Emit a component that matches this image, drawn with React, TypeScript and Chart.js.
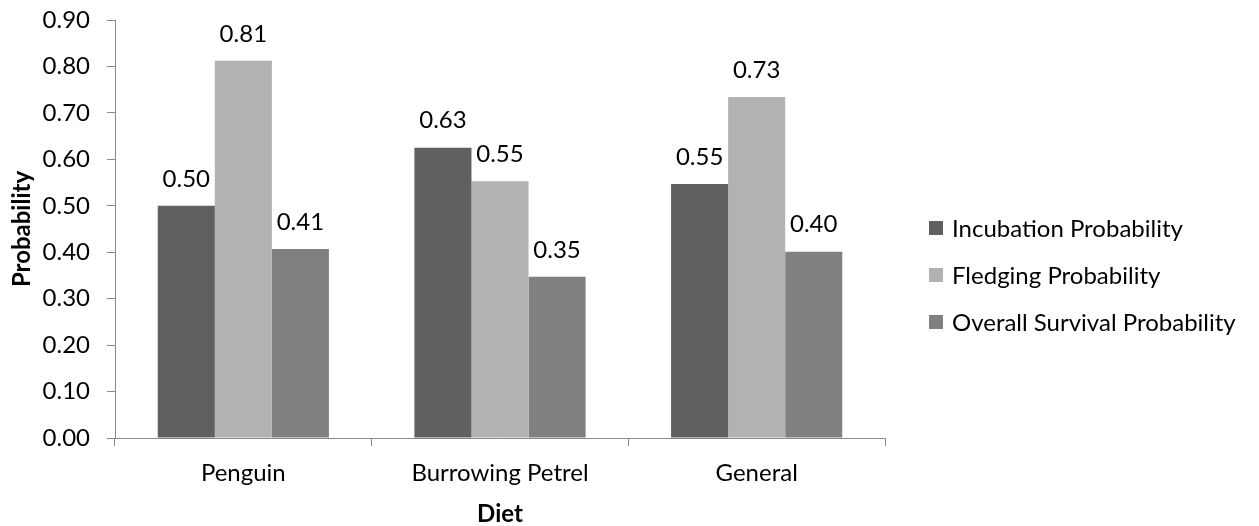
import React, { useEffect, useRef } from "react";
import { Chart, registerables } from "chart.js";

Chart.register(...registerables);

const categories = ["Penguin", "Burrowing Petrel", "General"];
const seriesNames = ["Incubation Probability", "Fledging Probability", "Overall Survival Probability"];
const incubation = [0.5, 0.625, 0.547];
const fledging = [0.812, 0.553, 0.734];
const overall = [0.407, 0.347, 0.401];
const seriesColors = ["#606060", "#b2b2b2", "#808080"];
const yTicks = [0, 0.1, 0.2, 0.3, 0.4, 0.5, 0.6, 0.7, 0.8, 0.9];

const FONT = "Lato, 'Open Sans', sans-serif";
const FS = 24;

const labelsPlugin = {
  id: "barLabels",
  afterDatasetsDraw(chart: any) {
    const ctx = chart.ctx;
    ctx.save();
    ctx.font = `${FS}px ${FONT}`;
    ctx.fillStyle = "#000";
    ctx.textAlign = "center";
    ctx.textBaseline = "middle";
    chart.data.datasets.forEach((ds: any, i: number) => {
      const meta = chart.getDatasetMeta(i);
      meta.data.forEach((bar: any, j: number) => {
        ctx.fillText(Number(ds.data[j]).toFixed(2), bar.x, bar.y - 27);
      });
    });
    ctx.restore();
  },
};

const legendPlugin = {
  id: "customLegend",
  afterDraw(chart: any) {
    const ctx = chart.ctx;
    ctx.save();
    ctx.font = `${FS}px ${FONT}`;
    ctx.textBaseline = "middle";
    ctx.textAlign = "left";
    const x0 = 921;
    const ys = [220, 267, 314];
    chart.data.datasets.forEach((ds: any, i: number) => {
      ctx.fillStyle = ds.backgroundColor;
      ctx.fillRect(x0, ys[i] - 7, 14, 14);
      ctx.fillStyle = "#000";
      ctx.fillText(ds.label, x0 + 23, ys[i] + 1);
    });
    ctx.restore();
  },
};

export default function App() {
  const ref = useRef<HTMLCanvasElement | null>(null);
  useEffect(() => {
    if (!ref.current) return;
    document.documentElement.style.overflow = "hidden";
    const values = [incubation, fledging, overall];
    const chart = new Chart(ref.current, {
      type: "bar",
      data: {
        labels: categories,
        datasets: seriesNames.map((name, i) => ({
          label: name,
          data: values[i],
          backgroundColor: seriesColors[i],
          borderWidth: 0,
          categoryPercentage: 0.667,
          barPercentage: 1,
        })),
      },
      options: {
        animation: false,
        responsive: true,
        maintainAspectRatio: false,
        layout: { padding: { top: 0, right: 366, bottom: 0, left: 0 } },
        plugins: {
          legend: { display: false },
          tooltip: { enabled: false },
        },
        scales: {
          x: {
            grid: {
              display: true,
              drawOnChartArea: false,
              drawTicks: true,
              tickLength: 8,
              color: "#898989",
              offset: true,
            },
            border: { display: true, color: "#898989", width: 1 },
            ticks: {
              color: "#000",
              font: { family: FONT, size: FS, lineHeight: 1 },
              padding: 15,
              maxRotation: 0,
            },
            title: {
              display: true,
              text: "Diet",
              color: "#000",
              font: { family: FONT, size: FS, weight: "bold", lineHeight: 1 },
              padding: { top: 0, bottom: 0 },
            },
            afterFit(scale: any) {
              scale.height = 88;
            },
          },
          y: {
            min: 0,
            max: 0.9,
            afterBuildTicks(scale: any) {
              scale.ticks = yTicks.map((v) => ({ value: v }));
            },
            grid: {
              display: true,
              drawOnChartArea: false,
              drawTicks: true,
              tickLength: 8,
              color: "#898989",
            },
            border: { display: true, color: "#898989", width: 1 },
            ticks: {
              color: "#000",
              font: { family: FONT, size: FS, lineHeight: 1 },
              padding: 17,
              callback: (v: any) => Number(v).toFixed(2),
            },
            title: {
              display: true,
              text: "Probability",
              color: "#000",
              font: { family: FONT, size: FS, weight: "bold", lineHeight: 1.2 },
              padding: { top: 0, bottom: 0 },
            },
            afterFit(scale: any) {
              scale.width = 107;
              scale.paddingTop = 12;
              scale.paddingBottom = 0;
            },
          },
        },
      },
      plugins: [labelsPlugin, legendPlugin],
    });
    return () => chart.destroy();
  }, []);
  return (
    <div style={{ position: "relative", width: 1243, height: 518 }}>
      <canvas ref={ref} />
    </div>
  );
}
